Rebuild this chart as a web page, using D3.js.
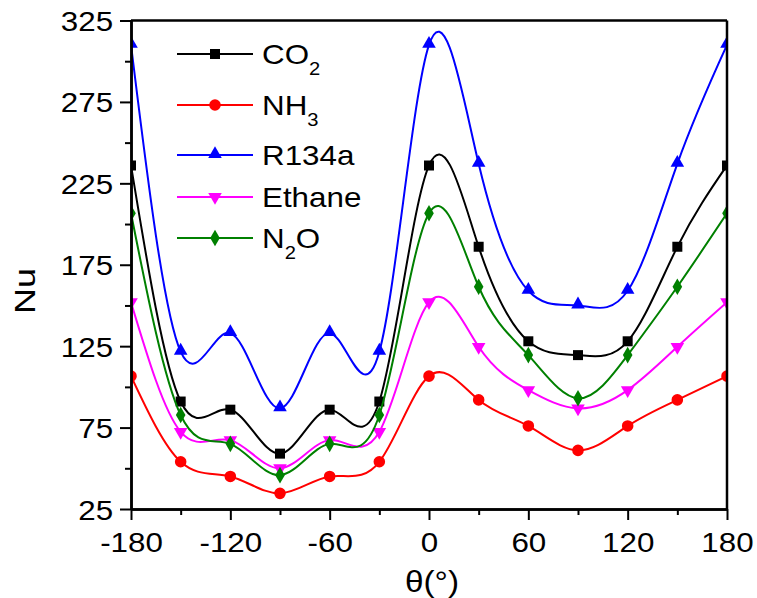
<!DOCTYPE html>
<html><head><meta charset="utf-8">
<script src="https://cdn.jsdelivr.net/npm/d3@7"></script>
<style>body{margin:0;background:#fff;} svg{display:block;font-family:"Liberation Sans",Arial,sans-serif}</style>
</head><body><svg id="c" width="757" height="598"></svg>
<script>
const angles=[-180,-150,-120,-90,-60,-30,0,30,60,90,120,150,180];
const co2=[236,91,86,59,86,91,236,186,128,119.5,128,186,236];
const nh3=[106.6,54,45,34.6,45,54,106.6,92,76,61,76,92,106.6];
const r134a=[310,121.6,133,86.8,133,121.6,310,237,159,150,159,237,310];
const ethane=[152,72.4,67.3,50,67.3,72.4,152,124.6,98,86.8,98,124.6,152];
const n2o=[206.6,82.7,65,45.8,65,82.7,206.6,161.5,119.5,93,119.5,161.5,206.6];
const xTicks=[-180,-120,-60,0,60,120,180];
const xMinor=[-150,-90,-30,30,90,150];
const yTicks=[25,75,125,175,225,275,325];
const yMinor=[50,100,150,200,250,300];
const seriesNames=["CO2","NH3","R134a","Ethane","N2O"];
const seriesLabels=[[["CO",0],["2",1]],[["NH",0],["3",1]],[["R134a",0]],[["Ethane",0]],[["N",0],["2",1],["O",0]]];
const seriesColors=["#000000","#ff0000","#0000ff","#ff00ff","#008000"];
const seriesSymbols=["square","circle","triangle","tridown","diamond"];
const seriesValues=[co2,nh3,r134a,ethane,n2o];

const L=131,R=727,T=20.5,B=509;
const SX=1.12;
const svg=d3.select("#c");
svg.append("rect").attr("width",757).attr("height",598).attr("fill","#fff");
const x=d3.scaleLinear().domain([-180,180]).range([L,R]);
const y=d3.scaleLinear().domain([25,325]).range([B,T]);

svg.append("defs").append("clipPath").attr("id","clip")
  .append("rect").attr("x",L).attr("y",T).attr("width",R-L).attr("height",B-T);

function sym(type){
  if(type==="square") return d3.symbol(d3.symbolSquare,100)();
  if(type==="circle") return d3.symbol(d3.symbolCircle,105)();
  if(type==="triangle") return d3.symbol(d3.symbolTriangle,80)();
  if(type==="tridown") return d3.symbol(d3.symbolTriangle,80)();
  if(type==="diamond") return d3.symbol(d3.symbolDiamond,80)();
}
function symTransform(type,px,py){
  if(type==="tridown") return `translate(${px},${py}) rotate(180)`;
  if(type==="triangle") return `translate(${px},${py-1})`;
  return `translate(${px},${py})`;
}

const plot=svg.append("g").attr("clip-path","url(#clip)");
const line=d3.line().x(d=>x(d[0])).y(d=>y(d[1])).curve(d3.curveNatural);
seriesValues.forEach((vals,i)=>{
  const pts=angles.map((a,j)=>[a,vals[j]]);
  plot.append("path").attr("d",line(pts)).attr("fill","none")
    .attr("stroke",seriesColors[i]).attr("stroke-width",2);
  plot.selectAll(null).data(pts).enter().append("path")
    .attr("d",sym(seriesSymbols[i]))
    .attr("transform",d=>symTransform(seriesSymbols[i],x(d[0]),y(d[1])))
    .attr("fill",seriesColors[i]);
});

// axes
const fs=28;
const ax=svg.append("g").attr("transform",`translate(0,${B})`)
  .call(d3.axisBottom(x).tickValues(xTicks).tickSize(11).tickSizeOuter(0).tickFormat(d3.format("d")));
const axm=svg.append("g").attr("transform",`translate(0,${B})`)
  .call(d3.axisBottom(x).tickValues(xMinor).tickSize(6).tickSizeOuter(0).tickFormat(""));
const ay=svg.append("g").attr("transform",`translate(${L},0)`)
  .call(d3.axisLeft(y).tickValues(yTicks).tickSize(11).tickSizeOuter(0));
const aym=svg.append("g").attr("transform",`translate(${L},0)`)
  .call(d3.axisLeft(y).tickValues(yMinor).tickSize(6).tickSizeOuter(0).tickFormat(""));
[ax,axm,ay,aym].forEach(g=>{
  g.selectAll("path.domain").attr("stroke","#000").attr("stroke-width",2.5);
  g.selectAll(".tick line").attr("stroke","#000").attr("stroke-width",2);
});
ax.selectAll(".tick text").attr("font-size",fs).attr("fill","#000")
  .attr("font-family","Liberation Sans, Arial, sans-serif")
  .attr("y",23).attr("dy","0.71em").attr("transform",`scale(${SX},1)`)
  .text(d=>d<0?"-"+Math.abs(d):String(d));
ay.selectAll(".tick text").attr("font-size",fs).attr("fill","#000")
  .attr("font-family","Liberation Sans, Arial, sans-serif")
  .attr("x",-16).attr("dy","0.36em").attr("transform",`scale(${SX},1)`);
// frame
svg.append("line").attr("x1",L).attr("x2",R).attr("y1",T).attr("y2",T).attr("stroke","#000").attr("stroke-width",2.5);
svg.append("line").attr("x1",R).attr("x2",R).attr("y1",T).attr("y2",B).attr("stroke","#000").attr("stroke-width",2.5);

// axis titles
svg.append("text").attr("transform","translate(35,291) rotate(-90) scale(1.2,1)")
  .attr("text-anchor","middle").attr("font-size",30).attr("fill","#000").text("Nu");
svg.append("text").attr("transform",`translate(432,592) scale(1.15,1)`)
  .attr("text-anchor","middle").attr("font-size",29).attr("fill","#000").text("θ(°)");

// legend
const legY=[54,105,155,197,238];
seriesNames.forEach((n,i)=>{
  const g=svg.append("g");
  g.append("line").attr("x1",177).attr("x2",253).attr("y1",legY[i]).attr("y2",legY[i])
    .attr("stroke",seriesColors[i]).attr("stroke-width",2);
  g.append("path").attr("d",sym(seriesSymbols[i]))
    .attr("transform",symTransform(seriesSymbols[i],215,legY[i])).attr("fill",seriesColors[i]);
  const t=g.append("text").attr("transform",`translate(262,${legY[i]+10}) scale(${SX},1)`)
    .attr("font-size",fs).attr("fill","#000");
  let sub=false;
  seriesLabels[i].forEach(([s,isSub])=>{
    const ts=t.append("tspan").text(s);
    if(isSub){ts.attr("font-size",18).attr("dy",11);sub=true;}
    else if(sub){ts.attr("dy",-11);sub=false;}
  });
});
</script></body></html>
